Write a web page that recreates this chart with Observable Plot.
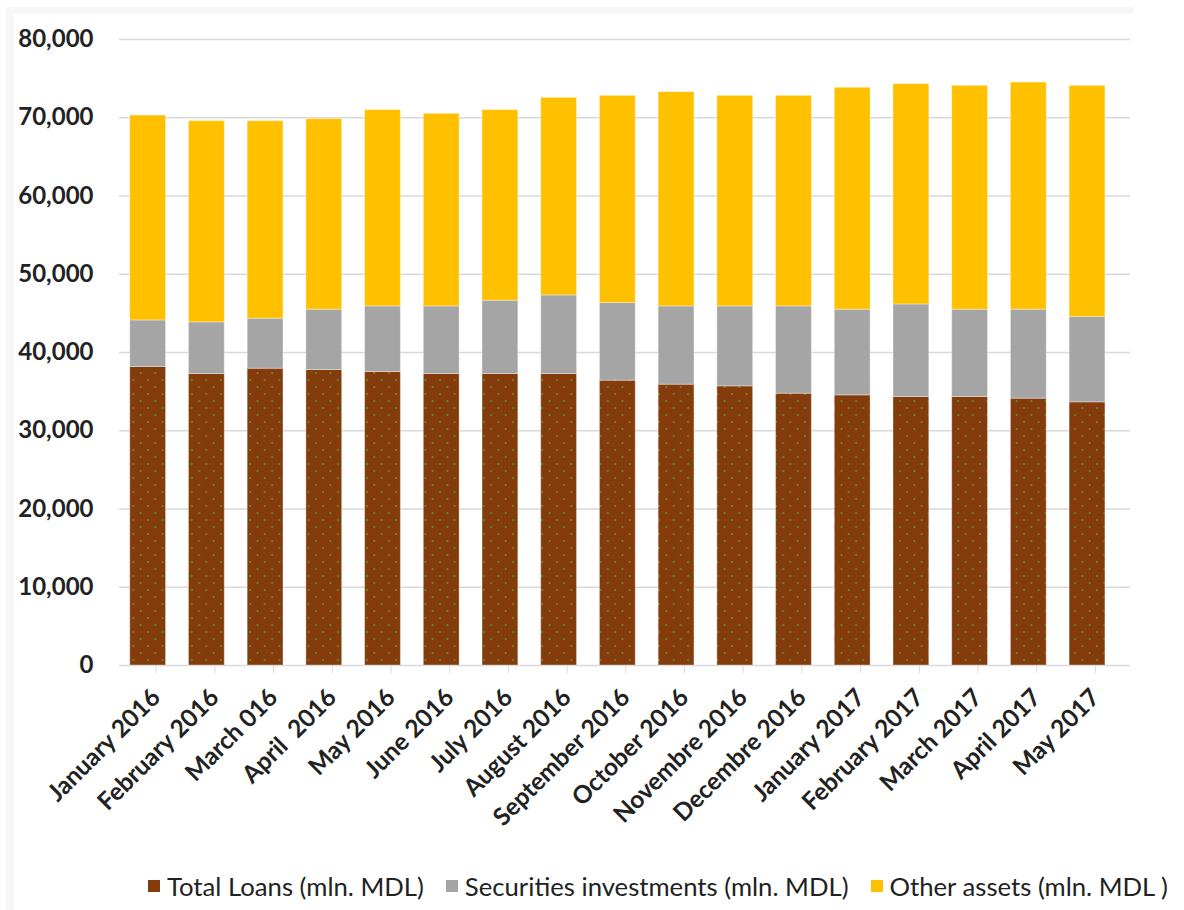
<!DOCTYPE html>
<html>
<head>
<meta charset="utf-8">
<script src="https://cdn.jsdelivr.net/npm/d3@7"></script>
<script src="https://cdn.jsdelivr.net/npm/@observablehq/plot@0.6"></script>
<style>
  html, body { margin: 0; padding: 0; background: #fff; }
  body { width: 1184px; height: 910px; position: relative; overflow: hidden; font-family: Lato, "Open Sans", sans-serif; }
  #frame { position: absolute; left: 6px; top: 7px; width: 1128px; height: 920px; border-left: 8px solid #f7f7f7; border-top: 7px solid #f7f7f7; box-sizing: border-box; }
  #chart { position: absolute; left: 0; top: 0; }
  #legend { position: absolute; top: 871px; left: 148px; display: flex; align-items: center; font-size: 25.7px; color: #222; white-space: nowrap; }
  .item { display: flex; align-items: center; margin-right: 22px; }
  .sw { width: 12px; height: 12px; margin-right: 7px; display: inline-block; }
</style>
</head>
<body>
<div id="frame"></div>
<div id="chart"></div>
<div id="legend"></div>
<script>
const months = ["January 2016", "February 2016", "March 016", "April  2016", "May 2016", "June 2016", "July 2016", "August 2016", "September 2016", "October 2016", "Novembre 2016", "Decembre 2016", "January 2017", "February 2017", "March 2017", "April 2017", "May 2017"];
const seriesNames = ["Total Loans (mln. MDL)", "Securities investments (mln. MDL)", "Other assets (mln. MDL )"];
const totalLoans = [38150, 37250, 37930, 37760, 37510, 37250, 37250, 37250, 36400, 35890, 35670, 34740, 34520, 34310, 34310, 34100, 33630];
const securities = [5950, 6600, 6390, 7710, 8380, 8640, 9370, 10040, 9920, 10000, 10220, 11150, 10950, 11830, 11160, 11370, 10900];
const otherAssets = [26180, 25710, 25240, 24350, 25080, 24610, 24350, 25250, 26480, 27380, 26910, 26910, 28360, 28160, 28610, 29030, 29550];
const yTicks = [0, 10000, 20000, 30000, 40000, 50000, 60000, 70000, 80000];
const colors = ["url(#loanDots)", "#A5A5A5", "#FFC000"];

const seriesValues = [totalLoans, securities, otherAssets];
const data = [];
seriesNames.forEach((s, si) => months.forEach((m, i) => data.push({month: m, series: s, value: seriesValues[si][i]})));

const fontTick = "Lato, 'Open Sans', sans-serif";

const chart = Plot.plot({
  width: 1184,
  height: 860,
  marginTop: 39,
  marginBottom: 195,
  marginLeft: 119,
  marginRight: 54,
  style: {background: "transparent", fontFamily: fontTick, color: "#222"},
  x: {domain: months, paddingInner: 0.39, paddingOuter: 0.305, align: 0.3, round: false, label: null},
  y: {domain: [0, 80000], label: null},
  color: {type: "ordinal", domain: seriesNames, range: colors},
  marks: [
    Plot.ruleY(yTicks, {stroke: "#d9d9d9", strokeWidth: 1.6}),
    Plot.barY(data, {x: "month", y: "value", fill: "series", stroke: "#ffffff", strokeOpacity: 0.35, strokeWidth: 1}),
    Plot.axisY({ticks: yTicks, tickFormat: d3.format(","), tickSize: 0, tickPadding: 26, fontSize: 24, fontWeight: "bold", fill: "#222"}),
    Plot.axisX({tickRotate: -45, tickSize: 8, tickPadding: 20, dx: 8, stroke: "#d9d9d9", fill: "#222", fontSize: 24.5, fontWeight: "bold"})
  ]
});

const svg = d3.select(chart);
const defs = svg.insert("defs", ":first-child");
const pat = defs.append("pattern").attr("id", "loanDots").attr("patternUnits", "userSpaceOnUse").attr("width", 14.6).attr("height", 14);
pat.append("rect").attr("width", 14.6).attr("height", 14).attr("fill", "#843C0C");
pat.append("circle").attr("cx", 2).attr("cy", 2).attr("r", 1).attr("fill", "#5f9a2e");
pat.append("circle").attr("cx", 9.3).attr("cy", 9).attr("r", 1).attr("fill", "#5f9a2e");

document.getElementById("chart").appendChild(chart);

const legend = document.getElementById("legend");
const swatchColors = ["#843C0C", "#A5A5A5", "#FFC000"];
seriesNames.forEach((s, i) => {
  const it = document.createElement("div");
  it.className = "item";
  const sw = document.createElement("span");
  sw.className = "sw";
  sw.style.background = swatchColors[i];
  it.appendChild(sw);
  it.appendChild(document.createTextNode(s));
  legend.appendChild(it);
});
</script>
</body>
</html>
